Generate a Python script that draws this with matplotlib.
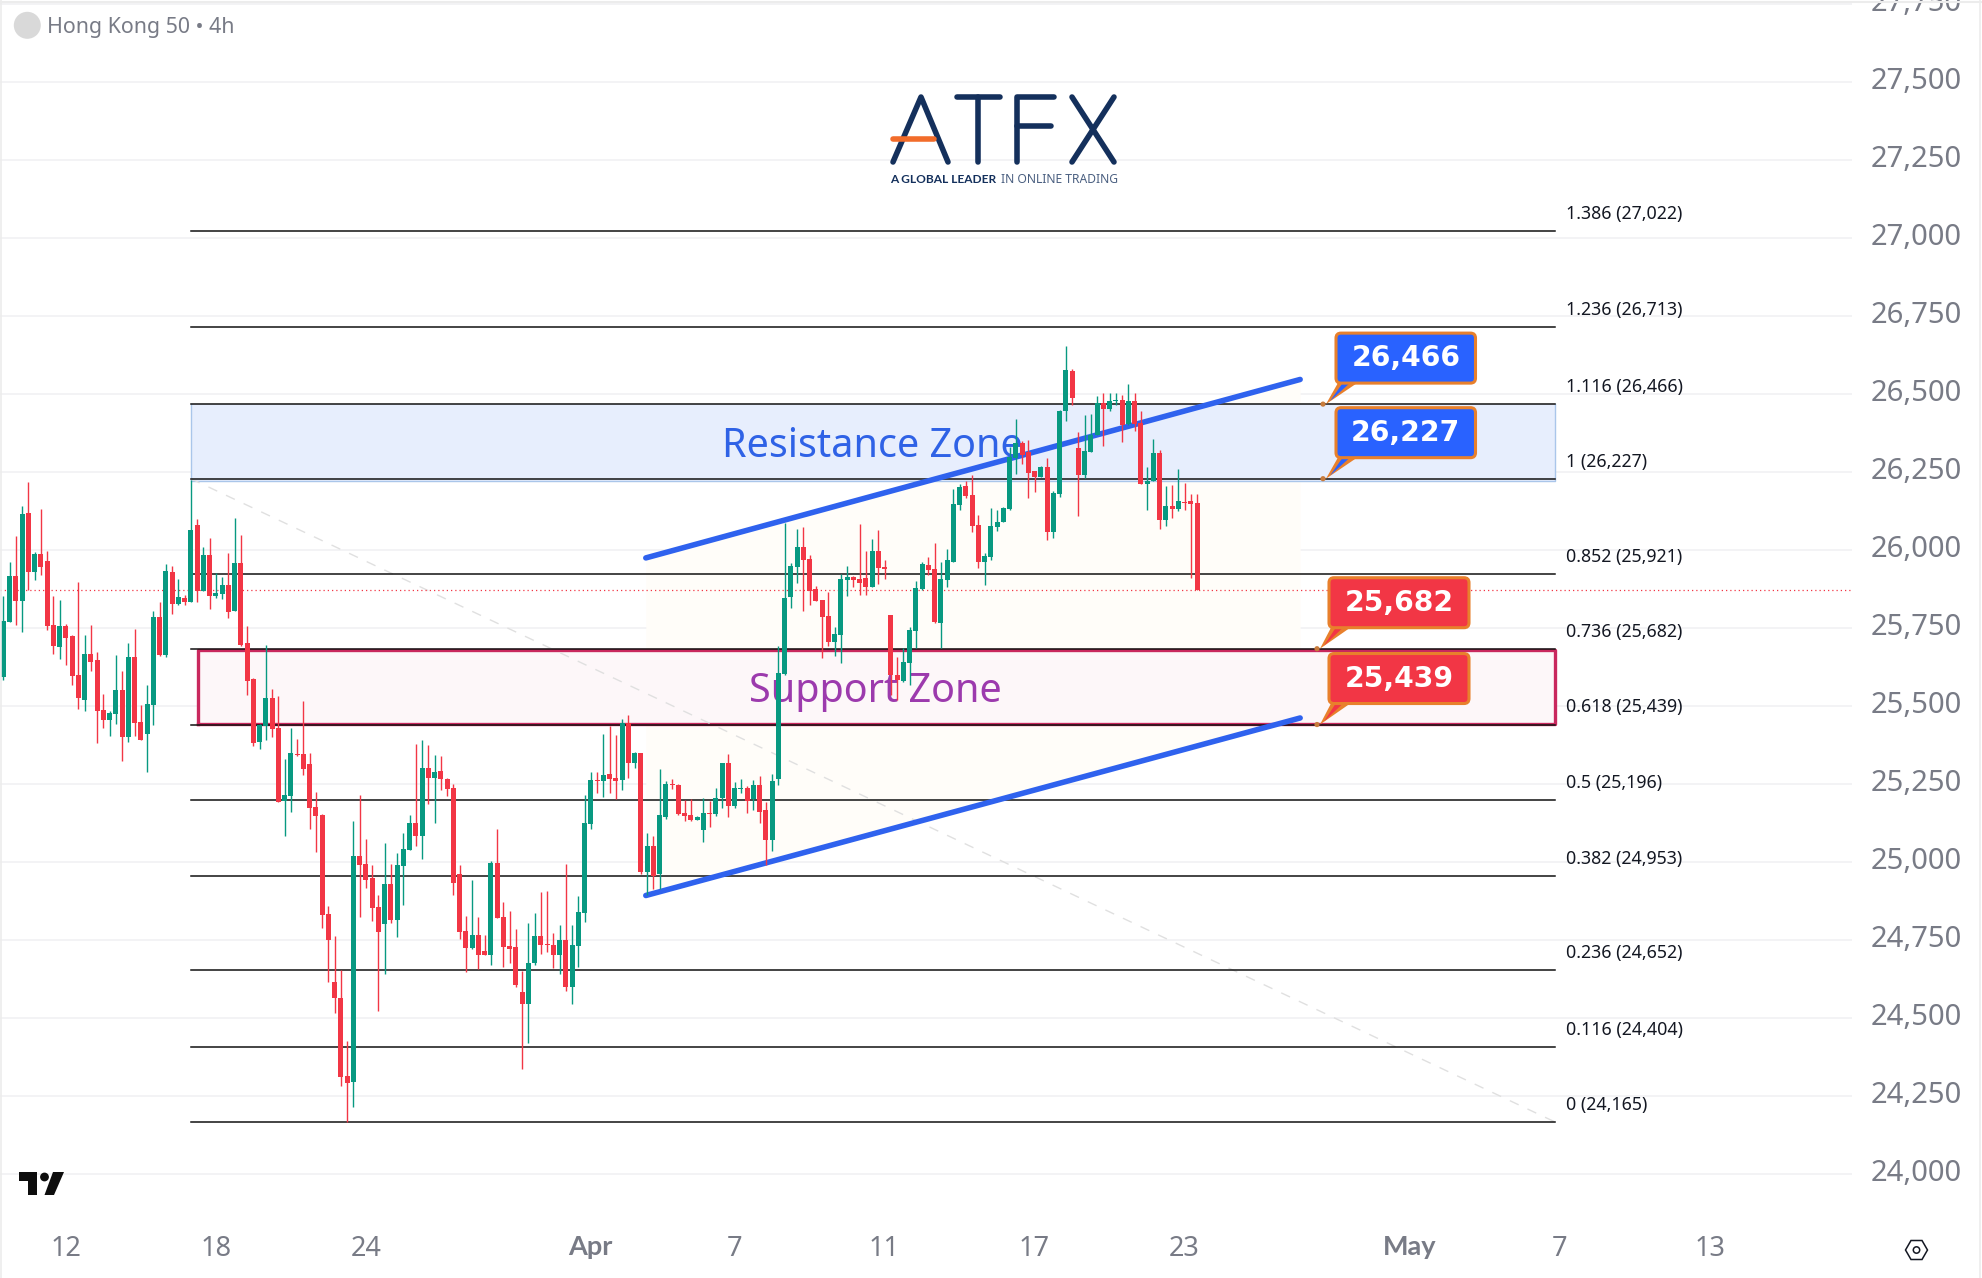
import matplotlib
matplotlib.use("Agg")
import matplotlib.pyplot as plt
from matplotlib.patches import Circle, FancyBboxPatch, Polygon
from matplotlib.transforms import ScaledTranslation
import numpy as np

'''
Hong Kong 50 4h candles with fibonacci levels, zones, channel and price callouts.
'''

opens = [25592, 25768, 25915, 25835, 26117, 25928, 25986, 25963, 25758, 25688, 25755, 25723, 25598, 25518, 25665, 25646,
         25486, 25454, 25473, 25550, 25399, 25656, 25448, 25409, 25502, 25784, 25662, 25928, 25826, 25845, 25832, 26079,
         25867, 25983, 25851, 25858, 25886, 25803, 25957, 25701, 25585, 25383, 25435, 25524, 25428, 25194, 25210, 25344,
         25345, 25313, 25175, 25149, 24832, 24614, 24563, 24313, 24294, 25018, 24992, 24947, 24855, 24800, 24928, 24813,
         24986, 25037, 25124, 25082, 25300, 25268, 25290, 25265, 25236, 24960, 24778, 24723, 24765, 24714, 24701, 24996,
         24822, 24730, 24726, 24582, 24544, 24675, 24762, 24736, 24733, 24701, 24749, 24598, 24730, 24835, 25120, 25261,
         25258, 25281, 25268, 25262, 25444, 25316, 25348, 24967, 25050, 24960, 25143, 25249, 25246, 25156, 25149, 25133,
         25101, 25156, 25153, 25204, 25316, 25178, 25233, 25236, 25201, 25246, 25165, 25069, 25265, 25602, 25848, 25944,
         26008, 25970, 25873, 25839, 25787, 25704, 25726, 25903, 25912, 25906, 25909, 25880, 25996, 25944, 25791, 25598,
         25579, 25637, 25739, 25874, 25951, 25938, 25765, 25903, 25960, 26143, 26204, 26175, 26079, 25960, 25976, 26072,
         26088, 26130, 26293, 26341, 26313, 26252, 26233, 26265, 26056, 26178, 26444, 26572, 26326, 26239, 26313, 26367,
         26470, 26450, 26476, 26479, 26402, 26476, 26405, 26210, 26220, 26310, 26095, 26140, 26130, 26153, 26156, 26150]
highs = [25851, 25960, 26043, 26140, 26217, 25992, 26130, 25995, 25851, 25838, 25762, 25726, 25896, 25726, 25758, 25672,
         25537, 25483, 25662, 25611, 25701, 25746, 25502, 25566, 25803, 25832, 25954, 25947, 25906, 25854, 26223, 26098,
         26008, 26037, 25925, 25912, 25989, 26101, 26047, 25755, 25589, 25441, 25694, 25553, 25531, 25329, 25428, 25393,
         25515, 25348, 25223, 25153, 24858, 24762, 24653, 24425, 25130, 25213, 25072, 24989, 24893, 25060, 24992, 25028,
         25092, 25149, 25377, 25390, 25374, 25342, 25338, 25268, 25249, 24989, 24826, 24941, 24822, 24765, 25002, 25104,
         24871, 24842, 24784, 24649, 24803, 24835, 24903, 24906, 24771, 24797, 24992, 24797, 24890, 25213, 25287, 25287,
         25409, 25434, 25406, 25457, 25470, 25351, 25348, 25092, 25082, 25297, 25258, 25265, 25249, 25198, 25201, 25146,
         25204, 25194, 25236, 25316, 25345, 25255, 25265, 25242, 25262, 25274, 25191, 25281, 25691, 26084, 25956, 26066,
         26072, 25982, 25883, 25839, 25864, 25752, 25922, 25948, 25915, 26082, 25996, 26034, 26063, 25967, 25791, 25656,
         25685, 25752, 25899, 25960, 25976, 26021, 25960, 26002, 26194, 26210, 26220, 26239, 26111, 25989, 26133, 26127,
         26136, 26329, 26418, 26348, 26351, 26252, 26268, 26293, 26188, 26447, 26652, 26579, 26377, 26431, 26434, 26492,
         26502, 26502, 26502, 26495, 26530, 26502, 26444, 26265, 26354, 26319, 26204, 26207, 26259, 26214, 26179, 26179]
lows = [25582, 25768, 25758, 25736, 25870, 25903, 25919, 25742, 25665, 25649, 25630, 25566, 25489, 25483, 25611, 25380,
        25428, 25403, 25441, 25323, 25383, 25403, 25390, 25287, 25438, 25659, 25656, 25794, 25821, 25822, 25832, 25832,
        25867, 25810, 25845, 25842, 25781, 25803, 25691, 25534, 25371, 25361, 25390, 25399, 25191, 25082, 25159, 25339,
        25278, 25105, 25031, 24787, 24614, 24515, 24281, 24165, 24214, 24822, 24915, 24810, 24521, 24640, 24803, 24758,
        24861, 25037, 25050, 25008, 25185, 25124, 25229, 25210, 24893, 24752, 24646, 24720, 24656, 24701, 24669, 24819,
        24662, 24675, 24598, 24335, 24419, 24669, 24704, 24710, 24659, 24640, 24585, 24544, 24662, 24806, 25104, 25220,
        25207, 25220, 25201, 25230, 25268, 25300, 24960, 24893, 24912, 24912, 25137, 25233, 25149, 25130, 25130, 25133,
        25063, 25111, 25146, 25172, 25143, 25172, 25220, 25156, 25165, 25124, 24989, 25034, 25246, 25598, 25813, 25893,
        25803, 25823, 25835, 25653, 25691, 25659, 25637, 25851, 25879, 25855, 25855, 25880, 25890, 25906, 25534, 25518,
        25576, 25566, 25685, 25871, 25919, 25765, 25685, 25880, 25960, 26127, 26165, 26056, 25941, 25887, 25966, 26059,
        26088, 26127, 26242, 26275, 26165, 26184, 26233, 26031, 26037, 26169, 26412, 26463, 26108, 26230, 26313, 26367,
        26332, 26444, 26463, 26345, 26399, 26380, 26210, 26127, 26220, 26066, 26076, 26102, 26124, 26127, 25909, 25871]
closes = [25771, 25915, 25835, 26114, 25928, 25986, 25944, 25755, 25691, 25755, 25717, 25595, 25524, 25665, 25640, 25483,
          25454, 25476, 25550, 25399, 25656, 25444, 25390, 25505, 25784, 25662, 25931, 25826, 25848, 25832, 26063, 25867,
          25983, 25851, 25861, 25886, 25800, 25957, 25694, 25579, 25380, 25438, 25524, 25425, 25191, 25214, 25348, 25341,
          25297, 25172, 25146, 24829, 24749, 24563, 24310, 24291, 25018, 24989, 24941, 24851, 24774, 24928, 24813, 24989,
          25040, 25124, 25082, 25300, 25268, 25287, 25265, 25233, 24931, 24774, 24723, 24765, 24701, 24701, 24996, 24819,
          24726, 24720, 24605, 24544, 24675, 24762, 24733, 24733, 24701, 24749, 24598, 24733, 24839, 25124, 25261, 25258,
          25277, 25265, 25258, 25444, 25316, 25348, 24967, 25050, 24954, 25149, 25249, 25246, 25153, 25146, 25133, 25143,
          25156, 25153, 25204, 25316, 25178, 25236, 25236, 25194, 25246, 25159, 25069, 25258, 25605, 25845, 25948, 26008,
          25967, 25867, 25835, 25784, 25704, 25730, 25906, 25912, 25903, 25893, 25880, 25996, 25941, 25938, 25598, 25582,
          25640, 25742, 25877, 25954, 25935, 25768, 25906, 25966, 26146, 26200, 26172, 26075, 25960, 25979, 26075, 26088,
          26133, 26297, 26341, 26303, 26245, 26233, 26265, 26056, 26182, 26444, 26575, 26486, 26239, 26316, 26367, 26470,
          26450, 26476, 26479, 26399, 26476, 26402, 26210, 26220, 26310, 26095, 26140, 26130, 26156, 26150, 26147, 25871]

last_price = 25871
price_ticks = [24000, 24250, 24500, 24750, 25000, 25250, 25500, 25750, 26000, 26250, 26500, 26750, 27000, 27250, 27500, 27750]
time_tick_bars = [11, 35, 59, 95, 118, 142, 166, 190, 226, 250, 274]
time_tick_labels = ["12", "18", "24", "Apr", "7", "11", "17", "23", "May", "7", "13"]
time_tick_bold = ["Apr", "May"]

fib_ratios = ["1.386", "1.236", "1.116", "1", "0.852", "0.736", "0.618", "0.5", "0.382", "0.236", "0.116", "0"]
fib_prices = [27022, 26713, 26466, 26227, 25921, 25682, 25439, 25196, 24953, 24652, 24404, 24165]
fib_start_bar, fib_end_bar = 31.0, 249.3

resistance_zone = (26220, 26466)
support_zone = (25440, 25678)
support_start_bar = 32.1

channel_bars = [103.8, 208.5]
channel_top = [25973, 26545]
channel_bottom = [24891, 25460]

callout_prices = [26466, 26227, 25682, 25439]
callout_labels = ["26,466", "26,227", "25,682", "25,439"]
callout_colors = ["#2962ff", "#2962ff", "#f23645", "#f23645"]

GREEN = "#089981"
RED = "#f23645"
GRID = "#f1f1f3"
AXIS_TEXT = "#787b86"
NAVY = "#14305c"
ORANGE = "#e8802c"

FIG_W, FIG_H = 1983, 1278
PANE_W, PANE_H = 1852, 1215
PX_PER_POINT = 0.312


def draw_candles(ax):
    bars = np.arange(1, len(opens) + 1)
    o, h, l, c = map(np.array, (opens, highs, lows, closes))
    colors = np.where(c >= o, GREEN, RED)
    ax.vlines(bars, l, h, colors=colors, linewidth=1.0, zorder=6)
    ax.bar(bars, np.abs(c - o), bottom=np.minimum(o, c), width=0.8, color=colors, linewidth=0, zorder=7)


def draw_studies(ax):
    ax.fill_between(channel_bars, channel_bottom, channel_top, color="#fffdf9", linewidth=0, zorder=1)
    ax.fill_between([fib_start_bar, fib_end_bar], *resistance_zone, color="#e7eefd", linewidth=0, zorder=2)
    ax.plot([fib_start_bar, fib_start_bar, fib_end_bar, fib_end_bar],
            [resistance_zone[1], resistance_zone[0], resistance_zone[0], resistance_zone[1]],
            color="#aac6ea", linewidth=1.0, zorder=2)
    ax.fill_between([support_start_bar, fib_end_bar], *support_zone, color="#fdf7f9", linewidth=0, zorder=2)
    ax.plot([support_start_bar, support_start_bar, fib_end_bar, fib_end_bar, support_start_bar],
            [support_zone[0], support_zone[1], support_zone[1], support_zone[0], support_zone[0]],
            color="#c9285e", linewidth=2.4, zorder=3)
    # fib trend, dashed from the 1 level down to the 0 level
    ax.plot([fib_start_bar, fib_end_bar], [fib_prices[3], fib_prices[-1]], color="#e0e0e0",
            linewidth=1.0, linestyle=(0, (7, 7)), zorder=3)
    for ratio, price in zip(fib_ratios, fib_prices):
        ax.plot([fib_start_bar, fib_end_bar], [price, price], color="#111111", linewidth=1.1, zorder=4)
        ax.annotate(f"{ratio} ({price:,})", (fib_end_bar, price), xytext=(8.0, 12.3), textcoords="offset points",
                    fontsize=12.8, color="#131722", va="center", ha="left", zorder=5)
    for top in (channel_top, channel_bottom):
        ax.plot(channel_bars, top, color="#2f62ee", linewidth=4.0, solid_capstyle="round", zorder=5)
    ax.text(140.1, 26329, "Resistance Zone", color="#2f62e6", fontsize=28.5, ha="center", va="center", zorder=5)
    ax.text(140.6, 25544, "Support Zone", color="#9c3aad", fontsize=28.5, ha="center", va="center", zorder=5)
    ax.axhline(last_price, color=RED, linewidth=0.9, linestyle=(0, (1, 2.4)), zorder=4)


def draw_callout(overlay, price, label, color, ax):
    # the tail tip sits on the level, the box hangs above and to the right of it
    _, tip_y = overlay.transData.inverted().transform(ax.transData.transform((0, price)))
    red = color == RED
    left = 1329 if red else 1336
    right = 1469 if red else 1475.5
    tip_x = 1317 if red else 1323
    bottom = tip_y - 21
    top = bottom - 50
    overlay.add_patch(Polygon([(left + 3, bottom - 2), (left + 24, bottom - 2), (tip_x + 3, tip_y)],
                              facecolor=ORANGE, edgecolor="none", zorder=8))
    overlay.add_patch(Polygon([(left + 8, bottom - 2), (left + 16, bottom - 2), (tip_x + 7, tip_y - 3)],
                              facecolor=color, edgecolor="none", zorder=9))
    overlay.add_patch(Circle((tip_x, tip_y), 2.6, facecolor="#c87b3c", edgecolor="none", zorder=9))
    overlay.add_patch(FancyBboxPatch((left + 5, top + 5), right - left - 10, bottom - top - 10,
                                     boxstyle="round,pad=5,rounding_size=5", facecolor=color, edgecolor=ORANGE,
                                     linewidth=2.2, zorder=10))
    overlay.text((left + right) / 2, (top + bottom) / 2, label, color="white", fontsize=20.3, fontweight="bold",
                 family="DejaVu Sans", ha="center", va="center", zorder=11)


def draw_logo(overlay):
    strokes = [[(893, 162), (921, 97), (948, 162)], [(957, 97), (1000, 97)], [(978, 97), (978, 162)],
               [(1017, 162), (1017, 97), (1054, 97)], [(1017, 126), (1051, 126)],
               [(1072, 97), (1114, 162)], [(1114, 97), (1072, 162)]]
    for stroke in strokes:
        xs, ys = zip(*stroke)
        overlay.plot(xs, ys, color=NAVY, linewidth=4.0, solid_capstyle="round", solid_joinstyle="round", zorder=8)
    overlay.plot([893, 934], [139, 139], color="#f26c2a", linewidth=4.0, solid_capstyle="round", zorder=9)
    overlay.text(890, 179.5, "A GLOBAL LEADER", color=NAVY, fontsize=8.6, fontweight="bold", family="Lato",
                 va="center", ha="left")
    overlay.text(1001, 179.5, "IN ONLINE TRADING", color="#4a5f80", fontsize=8.7, va="center", ha="left")


def draw_chrome(overlay):
    overlay.plot([1, 1], [0, FIG_H], color="#ececec", linewidth=1.2)
    overlay.plot([0, FIG_W], [2, 2], color="#ececec", linewidth=1.5)
    overlay.plot([1980, 1980], [0, FIG_H], color="#ececec", linewidth=1.2)
    overlay.add_patch(Circle((27.3, 25.3), 13.5, facecolor="#d9d9d9", edgecolor="none"))
    overlay.text(47, 27, "Hong Kong 50 \u2022 4h", color=AXIS_TEXT, fontsize=15.4, va="center", ha="left")
    # tradingview mark
    overlay.add_patch(Polygon([(19, 1172), (37, 1172), (37, 1195), (28, 1195), (28, 1181), (19, 1181)],
                              facecolor="#0d0d0d", edgecolor="none"))
    overlay.add_patch(Circle((44.5, 1177), 4.4, facecolor="#0d0d0d", edgecolor="none"))
    overlay.add_patch(Polygon([(53, 1172), (64, 1172), (54, 1195), (44.5, 1195)], facecolor="#0d0d0d", edgecolor="none"))
    # settings hexagon
    overlay.add_patch(Polygon([(1905.5, 1250), (1911, 1240.5), (1922, 1240.5), (1927.5, 1250), (1922, 1259.5), (1911, 1259.5)],
                              facecolor="none", edgecolor="#131722", linewidth=1.1))
    overlay.add_patch(Circle((1916.5, 1250), 3.2, facecolor="none", edgecolor="#131722", linewidth=1.1))


def main():
    plt.rcParams["font.family"] = ["Noto Sans", "DejaVu Sans"]
    fig = plt.figure(figsize=(FIG_W / 100, FIG_H / 100), dpi=100, facecolor="white")

    ax = fig.add_axes([0, 1 - PANE_H / FIG_H, PANE_W / FIG_W, PANE_H / FIG_H])
    ax.set_xlim(0.467, 296.8)
    ax.set_ylim(26250 - (PANE_H - 471.5) / PX_PER_POINT, 26250 + 471.5 / PX_PER_POINT)
    for spine in ax.spines.values():
        spine.set_visible(False)
    ax.set_yticks(price_ticks, [f"{p:,}" for p in price_ticks])
    ax.yaxis.tick_right()
    ax.tick_params(axis="y", length=0, pad=13.2, labelsize=21, labelcolor=AXIS_TEXT)
    ax.set_xticks(time_tick_bars, time_tick_labels)
    ax.tick_params(axis="x", length=0, pad=14.5, labelsize=19.5, labelcolor=AXIS_TEXT)
    for tick, text in zip(ax.xaxis.get_major_ticks(), time_tick_labels):
        if text in time_tick_bold:
            # Noto Sans has no bold cut here
            tick.label1.set_family("Lato")
            tick.label1.set_fontweight("bold")
    lift = ScaledTranslation(0, 2.5 / 72, fig.dpi_scale_trans)
    for tick in ax.yaxis.get_major_ticks():
        tick.label2.set_transform(tick.label2.get_transform() + lift)
    ax.grid(axis="y", color=GRID, linewidth=1.2, zorder=0)
    ax.set_axisbelow(True)

    draw_studies(ax)
    draw_candles(ax)

    overlay = fig.add_axes([0, 0, 1, 1])
    overlay.set_xlim(0, FIG_W)
    overlay.set_ylim(FIG_H, 0)
    overlay.axis("off")
    overlay.patch.set_alpha(0)
    draw_logo(overlay)
    draw_chrome(overlay)
    for price, label, color in zip(callout_prices, callout_labels, callout_colors):
        draw_callout(overlay, price, label, color, ax)

    fig.savefig("out.png", dpi=100)


if __name__ == "__main__":
    main()
